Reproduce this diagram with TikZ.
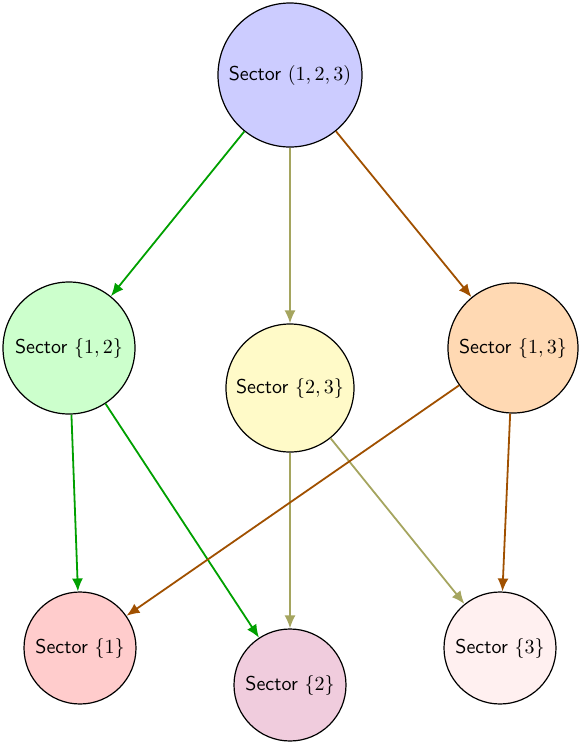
\documentclass[tikz,border=0pt]{standalone}
\usetikzlibrary{arrows.meta}
\definecolor{cgreen}{RGB}{0,160,0}
\definecolor{colive}{RGB}{165,165,95}
\definecolor{cbrown}{RGB}{160,80,0}
\definecolor{fblue}{RGB}{204,204,255}
\definecolor{fgreen}{RGB}{204,255,204}
\definecolor{fyellow}{RGB}{255,250,200}
\definecolor{forange}{RGB}{255,217,179}
\definecolor{fred}{RGB}{255,204,204}
\definecolor{fpink}{RGB}{240,204,221}
\definecolor{frose}{RGB}{255,240,240}
\begin{document}
\begin{tikzpicture}[x=0.5pt,y=-0.5pt,
  sect/.style={circle,draw=black,line width=0.6pt,inner sep=0pt,font=\sffamily},
  conn/.style={line width=0.9pt,-{Latex[length=6.5pt,width=5.5pt]}}]
\useasboundingbox (0,0) rectangle (581,746);
\node[sect,fill=fblue,minimum size=72pt] (a) at (290,75) {Sector $(1,2,3)$};
\node[sect,fill=fgreen,minimum size=66pt] (b) at (69,348) {Sector $\{1,2\}$};
\node[sect,fill=fyellow,minimum size=64pt] (c) at (290,388) {Sector $\{2,3\}$};
\node[sect,fill=forange,minimum size=65pt] (d) at (513,348) {Sector $\{1,3\}$};
\node[sect,fill=fred,minimum size=56pt] (e) at (80,648) {Sector $\{1\}$};
\node[sect,fill=fpink,minimum size=56pt] (f) at (290,685) {Sector $\{2\}$};
\node[sect,fill=frose,minimum size=56pt] (g) at (500,648) {Sector $\{3\}$};
\draw[conn,cgreen] (a) -- (b);
\draw[conn,colive] (a) -- (c);
\draw[conn,cbrown] (a) -- (d);
\draw[conn,cgreen] (b) -- (e);
\draw[conn,cgreen] (b) -- (f);
\draw[conn,colive] (c) -- (f);
\draw[conn,colive] (c) -- (g);
\draw[conn,cbrown] (d) -- (e);
\draw[conn,cbrown] (d) -- (g);
\end{tikzpicture}
\end{document}
